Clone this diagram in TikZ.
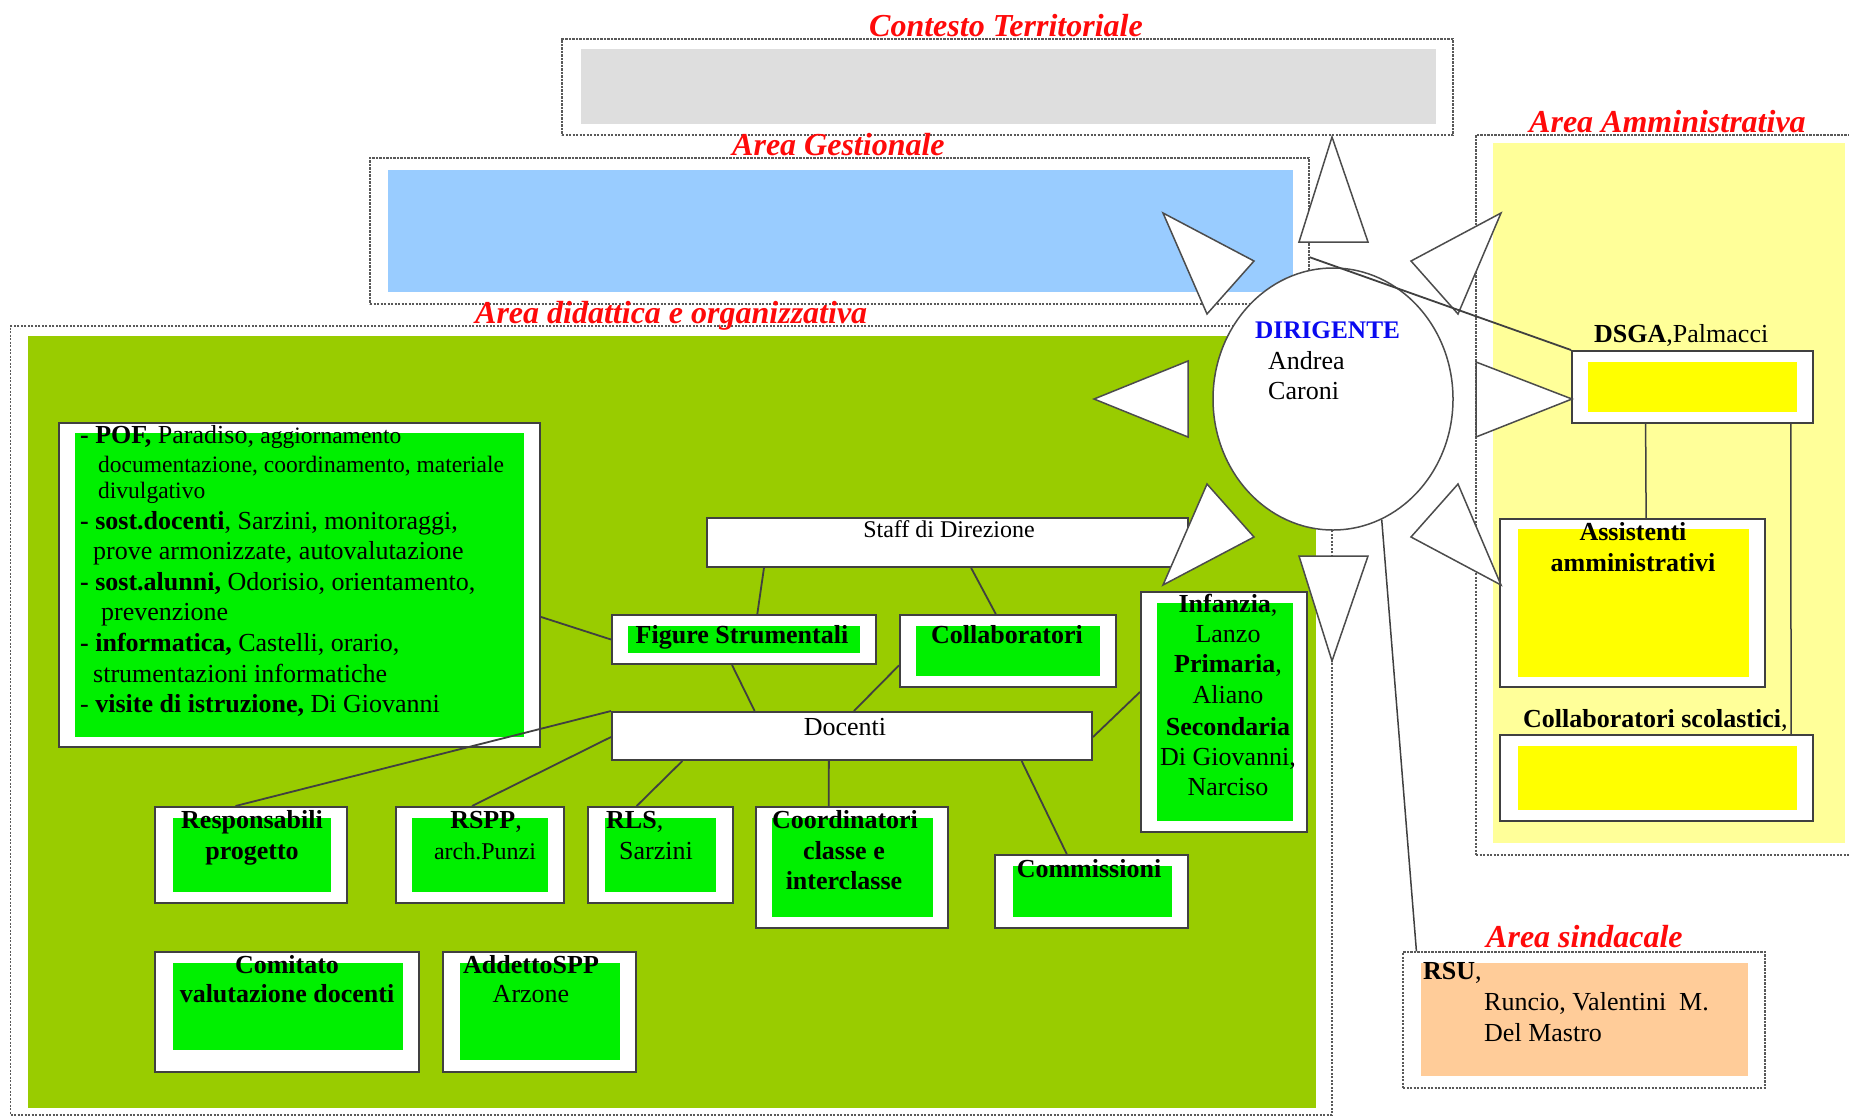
\documentclass[tikz,border=0pt]{standalone}
\usepackage{fontspec}
\setmainfont{Liberation Serif}
\usetikzlibrary{shapes.geometric,calc,fit}
\definecolor{olivegr}{HTML}{99CC00}
\definecolor{bgreen}{HTML}{00F000}
\definecolor{lblue}{HTML}{99CCFF}
\definecolor{lgray}{HTML}{DEDEDE}
\definecolor{pyellow}{HTML}{FFFF99}
\definecolor{byellow}{HTML}{FFFF00}
\definecolor{peach}{HTML}{FFCC99}
\definecolor{dirblue}{HTML}{0A0AF0}
\definecolor{titred}{HTML}{FF0A0A}
\newcommand\obx[6]{\node[obox,fit={#2 #3}] (#1) {};\fill[#6] #4 rectangle #5;}
\begin{document}
\begin{tikzpicture}[x=1pt,y=-1pt,
  dbox/.style={draw=black!65, dash pattern=on 2.2pt off 1.3pt, line width=1.5pt, inner sep=0pt},
  obox/.style={draw=black!75, fill=white, line width=2pt, inner sep=0pt},
  conn/.style={draw=black!75, line width=1.8pt},
  tri/.style={draw=black!70, fill=white, line width=1.5pt, line join=miter},
  ttl/.style={anchor=base west, inner sep=0pt, text=titred, font=\fontsize{32}{36}\selectfont\bfseries\itshape},
  tc/.style={anchor=base, inner sep=0pt, font=\fontsize{26}{30}\selectfont},
  tcb/.style={anchor=base, inner sep=0pt, font=\fontsize{26}{30}\selectfont\bfseries},
  tw/.style={anchor=base west, inner sep=0pt, font=\fontsize{26}{30}\selectfont},
  tws/.style={anchor=base west, inner sep=0pt, font=\fontsize{23.5}{27}\selectfont}]
\useasboundingbox (0,0) rectangle (1849,1117);
\fill[white] (0,0) rectangle (1849,1117);

% ---- Contesto Territoriale
\node[dbox,fit={(562,39) (1453,135)}] (ctx) {};
\fill[lgray] (581,49) rectangle (1436,124);
\node[ttl] (tctx) at (869,36) {Contesto Territoriale};

% ---- Area Gestionale
\node[dbox,fit={(370,158) (1309,304)}] (gest) {};
\fill[lblue] (388,170) rectangle (1293,292);
\node[ttl] (tgest) at (732,155) {Area Gestionale};

% ---- Area Amministrativa
\node[dbox,fit={(1476,135) (1856,855)}] (amm) {};
\fill[pyellow] (1493,143) rectangle (1845,843);
\node[ttl] (tamm) at (1529,132) {Area Amministrativa};

% ---- Area didattica
\node[dbox,fit={(10.6,326) (1332,1115)}] (did) {};
\fill[olivegr] (28,336) rectangle (1316,1108);
\node[ttl] (tdid) at (475,323) {Area didattica e organizzativa};

% ---- Area sindacale
\node[dbox,fit={(1403,952) (1765,1088)}] (rsu) {};
\fill[peach] (1421,963) rectangle (1748,1076);
\node[ttl] (tsind) at (1486,947) {Area sindacale};
\node[tw] (trsu1) at (1423,979) {\textbf{RSU},};
\node[tw] (trsu2) at (1484,1010) {Runcio, Valentini\ \ M.};
\node[tw] (trsu3) at (1484,1041) {Del Mastro};

% ---- boxes in Area didattica
\obx{pof}{(59,423)}{(540,747)}{(75,433)}{(524,737)}{bgreen}
\node[tw] (p1) at (80,443) {\textbf{- POF,} Paradiso, {\fontsize{23.5}{27}\selectfont aggiornamento}};
\node[tws] (p2) at (98,472) {documentazione, coordinamento, materiale};
\node[tws] (p3) at (98,498) {divulgativo};
\node[tw] (p4) at (80,529) {\textbf{- sost.docenti}, Sarzini, monitoraggi,};
\node[tw] (p5) at (93,559) {prove armonizzate, autovalutazione};
\node[tw] (p6) at (80,590) {\textbf{- sost.alunni,} Odorisio, orientamento,};
\node[tw] (p7) at (101,620) {prevenzione};
\node[tw] (p8) at (80,651) {\textbf{- informatica,} Castelli, orario,};
\node[tw] (p9) at (93,682) {strumentazioni informatiche};
\node[tw] (p10) at (80,712) {- \textbf{visite di istruzione,} Di Giovanni};

\node[obox,fit={(707,518) (1188,567)}] (staff) {};
\node[anchor=base, inner sep=0pt, font=\fontsize{24}{28}\selectfont] (tstaff) at (949,537) {Staff di Direzione};

\obx{fig}{(612,615)}{(876,664)}{(628,626)}{(860,653)}{bgreen}
\node[tcb] (tfig) at (742,643) {Figure Strumentali};
\obx{coll}{(900,615)}{(1116,687)}{(916,626)}{(1100,676)}{bgreen}
\node[tcb] (tcoll) at (1007,643) {Collaboratori};

\node[obox,fit={(612,712) (1092,760)}] (doc) {};
\node[tc] (tdoc) at (845,735) {Docenti};

\obx{inf}{(1141,592)}{(1307,832)}{(1157,603)}{(1293,821)}{bgreen}
\node[tc] (inf1) at (1228,612) {\textbf{Infanzia},};
\node[tc] (inf2) at (1228,642) {Lanzo};
\node[tc] (inf3) at (1228,672) {\textbf{Primaria},};
\node[tc] (inf4) at (1228,703) {Aliano};
\node[tc] (inf5) at (1228,735) {\textbf{Secondaria}};
\node[tc] (inf6) at (1228,765) {Di Giovanni,};
\node[tc] (inf7) at (1228,795) {Narciso};

\obx{resp}{(155,807)}{(347,903)}{(173,818)}{(331,892)}{bgreen}
\node[tcb] (tresp1) at (252,828) {Responsabili};
\node[tcb] (tresp2) at (252,859) {progetto};
\obx{rspp}{(396,807)}{(564,903)}{(412,818)}{(548,892)}{bgreen}
\node[tc] (trspp1) at (486,828) {\textbf{RSPP},};
\node[anchor=base, inner sep=0pt, font=\fontsize{24}{28}\selectfont] (trspp2) at (485,859) {arch.Punzi};
\obx{rls}{(588,807)}{(733,903)}{(605,818)}{(716,892)}{bgreen}
\node[tw] (trls1) at (606,828) {\textbf{RLS},};
\node[tw] (trls2) at (619,859) {Sarzini};
\obx{coord}{(756,807)}{(948,928)}{(772,818)}{(933,917)}{bgreen}
\node[tcb] (tco1) at (845,828) {Coordinatori};
\node[tcb] (tco2) at (844,859) {classe e};
\node[tcb] (tco3) at (844,889) {interclasse};
\obx{comm}{(995,855)}{(1188,928)}{(1013,866)}{(1172,917)}{bgreen}
\node[tcb] (tcomm) at (1089,877) {Commissioni};
\obx{comit}{(155,952)}{(419,1072)}{(173,963)}{(403,1050)}{bgreen}
\node[tcb] (tcomit1) at (287,973) {Comitato};
\node[tcb] (tcomit2) at (287,1002) {valutazione docenti};
\obx{add}{(443,952)}{(636,1072)}{(460,963)}{(620,1060)}{bgreen}
\node[tcb] (tadd1) at (531,973) {AddettoSPP};
\node[tc] (tadd2) at (531,1002) {Arzone};

% ---- boxes in Area Amministrativa
\obx{dsga}{(1572,351)}{(1813,423)}{(1588,362)}{(1797,412)}{byellow}
\node[tw] (tdsga) at (1594,342) {\textbf{DSGA},Palmacci};
\obx{ass}{(1500,519)}{(1765,687)}{(1518,529)}{(1749,677)}{byellow}
\node[tcb] (tass1) at (1633,540) {Assistenti};
\node[tcb] (tass2) at (1633,571) {amministrativi};
\obx{cols}{(1500,735)}{(1813,821)}{(1518,746)}{(1797,810)}{byellow}
\node[tw] (tcols) at (1523,727) {\textbf{Collaboratori scolastici},};

% ---- star of triangles around the Dirigente
\draw[tri] (1332,137) -- (1299,242) -- (1368,242) -- cycle;
\draw[tri] (1332,661) -- (1299,556) -- (1368,556) -- cycle;
\draw[tri] (1094,399) -- (1188,361) -- (1188,437) -- cycle;
\draw[tri] (1572,399) -- (1476,362) -- (1476,437) -- cycle;
\draw[tri] (1163,213) -- (1254,261) -- (1207,314) -- cycle;
\draw[tri] (1501,213) -- (1411,261) -- (1458,314) -- cycle;
\draw[tri] (1163,585) -- (1254,537) -- (1207,484) -- cycle;
\draw[tri] (1501,585) -- (1411,537) -- (1458,484) -- cycle;
\node[ellipse, draw=black!70, line width=1.5pt, fill=white, minimum width=240, minimum height=262, inner sep=0pt] (dir) at (1333,399) {};
\node[anchor=base west, inner sep=0pt, text=dirblue, font=\fontsize{25.3}{29}\selectfont\bfseries] (tdir) at (1255,338) {DIRIGENTE};
\node[tw] (tdir2) at (1268,369) {Andrea};
\node[tw] (tdir3) at (1268,399) {Caroni};

% ---- connectors
\draw[conn] ($(pof.north east)!0.598!(pof.south east)$) -- (fig.west);
\draw[conn] ($(staff.south west)!0.12!(staff.south east)$) -- ($(fig.north west)!0.55!(fig.north east)$);
\draw[conn] ($(staff.south west)!0.549!(staff.south east)$) -- ($(coll.north west)!0.444!(coll.north east)$);
\draw[conn] ($(fig.south west)!0.455!(fig.south east)$) -- ($(doc.north west)!0.298!(doc.north east)$);
\draw[conn] ($(coll.north west)!0.694!(coll.south west)$) -- ($(doc.north west)!0.504!(doc.north east)$);
\draw[conn] (doc.north west) -- ($(resp.north west)!0.42!(resp.north east)$);
\draw[conn] ($(doc.north west)!0.52!(doc.south west)$) -- ($(rspp.north west)!0.453!(rspp.north east)$);
\draw[conn] ($(doc.south west)!0.148!(doc.south east)$) -- ($(rls.north west)!0.338!(rls.north east)$);
\draw[conn] ($(doc.south west)!0.452!(doc.south east)$) -- ($(coord.north west)!0.38!(coord.north east)$);
\draw[conn] ($(doc.south west)!0.852!(doc.south east)$) -- ($(comm.north west)!0.373!(comm.north east)$);
\draw[conn] ($(doc.north east)!0.52!(doc.south east)$) -- ($(inf.north west)!0.417!(inf.south west)$);
\draw[conn] ($(gest.north east)!0.678!(gest.south east)$) -- (dsga.north west);
\draw[conn, line width=1.5pt] (dir.-68) -- ($(rsu.north west)!0.039!(rsu.north east)$);
\draw[conn, line width=1.5pt] ($(dsga.south west)!0.307!(dsga.south east)$) -- ($(ass.north west)!0.551!(ass.north east)$);
\draw[conn, line width=1.5pt] ($(dsga.south west)!0.905!(dsga.south east)$) -- ($(cols.north west)!0.927!(cols.north east)$);
\end{tikzpicture}
\end{document}
